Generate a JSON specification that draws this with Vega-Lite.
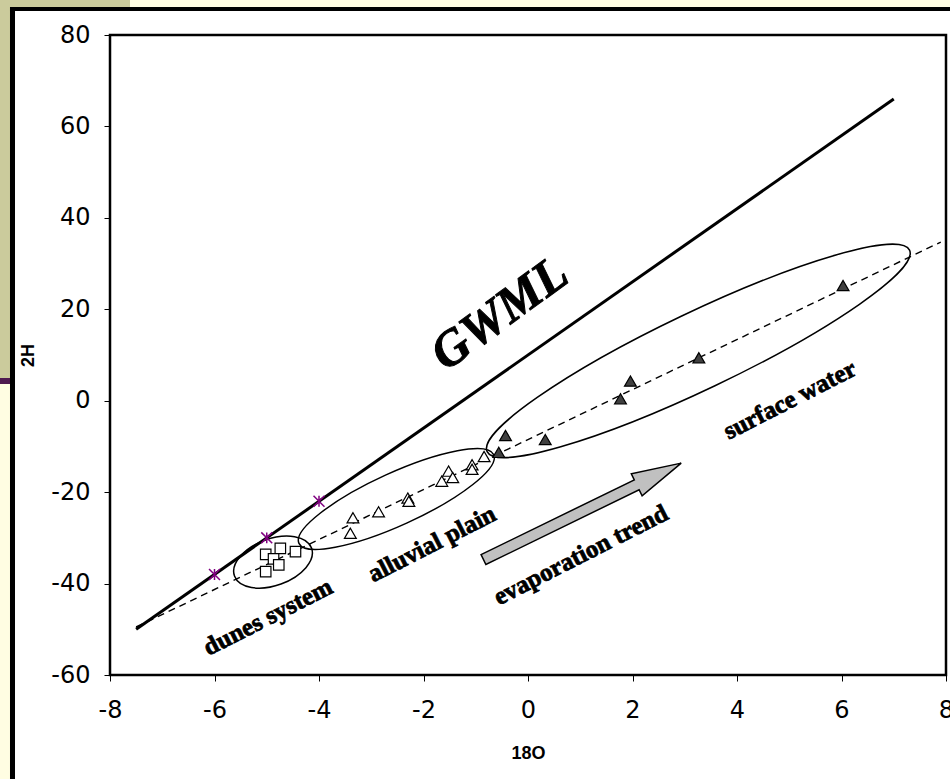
{
  "$schema": "https://vega.github.io/schema/vega-lite/v6.json",
  "width": 836,
  "height": 640,
  "autosize": {"type": "none"},
  "padding": {"left": 110, "top": 35, "right": 4, "bottom": 104},
  "background": "white",
  "config": {
    "view": {"stroke": "black", "strokeWidth": 2.5},
    "axis": {"zindex": 1}
  },
  "datasets": {
    "gwml": [{"x": -7.5, "y": -50}, {"x": 7, "y": 66}],
    "evap": [{"x": -7.5, "y": -49.5}, {"x": 7.9, "y": 34.7}],
    "stars": [{"x": -6, "y": -38}, {"x": -5, "y": -30}, {"x": -4, "y": -22}],
    "dunes": [
      {"x": -5.02, "y": -33.6}, {"x": -4.74, "y": -32.3}, {"x": -4.87, "y": -34.6},
      {"x": -4.77, "y": -35.9}, {"x": -5.02, "y": -37.4}, {"x": -4.45, "y": -33.0}
    ],
    "alluvial": [
      {"x": -3.35, "y": -25.6}, {"x": -3.4, "y": -29.0}, {"x": -2.86, "y": -24.3},
      {"x": -2.3, "y": -21.3}, {"x": -2.28, "y": -22.0}, {"x": -1.65, "y": -17.6},
      {"x": -1.52, "y": -15.4}, {"x": -1.44, "y": -16.8}, {"x": -1.07, "y": -14.0},
      {"x": -1.07, "y": -15.0}, {"x": -0.84, "y": -12.2}
    ],
    "surface": [
      {"x": -0.43, "y": -7.6}, {"x": -0.56, "y": -11.3}, {"x": 0.33, "y": -8.5},
      {"x": 1.77, "y": 0.4}, {"x": 1.96, "y": 4.3}, {"x": 3.27, "y": 9.4}, {"x": 6.03, "y": 25.2}
    ],
    "ell_dunes": [{"x": -4.88, "y": -35.3}],
    "ell_alluvial": [{"x": -2.52, "y": -21.5}],
    "ell_surface": [{"x": 3.26, "y": 10.9}],
    "arrow": [{"x": 1.04, "y": -24.2}],
    "gwml_label": [{"x": -0.54, "y": 19.0, "label": "GWML"}],
    "labels": [
      {"x": -4.98, "y": -47.3, "label": "dunes system"},
      {"x": -1.84, "y": -31.3, "label": "alluvial plain"},
      {"x": 1.01, "y": -33.7, "label": "evaporation trend"},
      {"x": 5.01, "y": 0.2, "label": "surface water"}
    ]
  },
  "layer": [
    {
      "data": {"values": [{"k": 0}]},
      "layer": [
        {
          "mark": {"type": "rect", "fill": "#cbcb9c", "clip": false},
          "encoding": {"x": {"datum": -10.2, "type": "quantitative", "title": "18O"}, "x2": {"datum": -9.914}, "y": {"datum": 88.75, "type": "quantitative", "title": "2H"}, "y2": {"datum": 4.97}}
        },
        {
          "mark": {"type": "rect", "fill": "#cbcb9c", "clip": false},
          "encoding": {"x": {"datum": -10.2, "type": "quantitative", "title": "18O"}, "x2": {"datum": -7.617}, "y": {"datum": 88.75, "type": "quantitative", "title": "2H"}, "y2": {"datum": 86.125}}
        },
        {
          "mark": {"type": "rect", "fill": "#fffde2", "clip": false},
          "encoding": {"x": {"datum": -7.617, "type": "quantitative", "title": "18O"}, "x2": {"datum": 8.2}, "y": {"datum": 88.75, "type": "quantitative", "title": "2H"}, "y2": {"datum": 86.125}}
        },
        {
          "mark": {"type": "rect", "fill": "#fffde2", "clip": false},
          "encoding": {"x": {"datum": -10.2, "type": "quantitative", "title": "18O"}, "x2": {"datum": -9.914}, "y": {"datum": 3.66, "type": "quantitative", "title": "2H"}, "y2": {"datum": -84.1}}
        },
        {
          "mark": {"type": "rect", "fill": "#4f1a4f", "clip": false},
          "encoding": {"x": {"datum": -10.2, "type": "quantitative", "title": "18O"}, "x2": {"datum": -9.914}, "y": {"datum": 4.97, "type": "quantitative", "title": "2H"}, "y2": {"datum": 3.66}}
        },
        {
          "mark": {"type": "rect", "fill": "black", "clip": false},
          "encoding": {"x": {"datum": -9.914, "type": "quantitative", "title": "18O"}, "x2": {"datum": -9.818}, "y": {"datum": 86.125, "type": "quantitative", "title": "2H"}, "y2": {"datum": -84.1}}
        },
        {
          "mark": {"type": "rect", "fill": "black", "clip": false},
          "encoding": {"x": {"datum": -9.914, "type": "quantitative", "title": "18O"}, "x2": {"datum": 8.2}, "y": {"datum": 86.125, "type": "quantitative", "title": "2H"}, "y2": {"datum": 85.25}}
        }
      ]
    },
    {
      "encoding": {
        "x": {
          "field": "x", "type": "quantitative",
          "scale": {"domain": [-8, 8], "nice": false, "zero": false},
          "axis": {
            "title": "18O", "values": [-8, -6, -4, -2, 0, 2, 4, 6, 8], "grid": false, "domain": false,
            "labelExpr": "'' + datum.value",
            "labelFont": "DejaVu Sans", "labelFontSize": 24, "labelColor": "black", "labelPadding": 17,
            "labelFlush": false, "labelOverlap": false,
            "tickColor": "black", "tickSize": 6, "tickWidth": 1,
            "titleFont": "Liberation Sans", "titleFontSize": 18, "titleFontWeight": "bold", "titleColor": "black",
            "titleY": 78, "titleBaseline": "middle"
          }
        },
        "y": {
          "field": "y", "type": "quantitative",
          "scale": {"domain": [-60, 80], "nice": false, "zero": false},
          "axis": {
            "title": "2H", "values": [-60, -40, -20, 0, 20, 40, 60, 80], "grid": false, "domain": false,
            "labelExpr": "'' + datum.value",
            "labelFont": "DejaVu Sans", "labelFontSize": 24, "labelColor": "black", "labelPadding": 14,
            "labelFlush": false, "labelOverlap": false,
            "tickColor": "black", "tickSize": 6, "tickWidth": 1,
            "titleFont": "Liberation Sans", "titleFontSize": 18, "titleFontWeight": "bold", "titleColor": "black",
            "titleX": -82, "titleY": 320, "titleBaseline": "middle"
          }
        }
      },
      "layer": [
        {
          "data": {"name": "ell_dunes"},
          "mark": {"type": "point", "shape": "M -1 0 A 1 0.57 0 1 0 1 0 A 1 0.57 0 1 0 -1 0 Z", "filled": false, "stroke": "black", "strokeWidth": 1.5, "opacity": 1, "size": 6724, "angle": -20}
        },
        {
          "data": {"name": "ell_alluvial"},
          "mark": {"type": "point", "shape": "M -1 0 A 1 0.245 0 1 0 1 0 A 1 0.245 0 1 0 -1 0 Z", "filled": false, "stroke": "black", "strokeWidth": 1.5, "opacity": 1, "size": 45796, "angle": -24.5}
        },
        {
          "data": {"name": "ell_surface"},
          "mark": {"type": "point", "shape": "M -1 0 A 1 0.165 0 1 0 1 0 A 1 0.165 0 1 0 -1 0 Z", "filled": false, "stroke": "black", "strokeWidth": 1.5, "opacity": 1, "size": 219024, "angle": -25.5}
        },
        {
          "data": {"name": "gwml"},
          "mark": {"type": "line", "color": "black", "strokeWidth": 3}
        },
        {
          "data": {"name": "evap"},
          "mark": {"type": "line", "color": "black", "strokeWidth": 1.4, "strokeDash": [7, 5]}
        },
        {
          "data": {"name": "arrow"},
          "mark": {"type": "point", "shape": "M -1 -0.05 L 0.55 -0.05 L 0.55 -0.112 L 1 0 L 0.55 0.112 L 0.55 0.05 L -1 0.05 Z", "filled": true, "fill": "#c0c0c0", "stroke": "black", "strokeWidth": 1.5, "opacity": 1, "size": 48400, "angle": -26}
        },
        {
          "data": {"name": "stars"},
          "mark": {"type": "point", "shape": "M -1 -1 L 1 1 M -1 1 L 1 -1 M 0 -1 L 0 1", "filled": false, "stroke": "#800080", "strokeWidth": 1.5, "opacity": 1, "size": 120}
        },
        {
          "data": {"name": "dunes"},
          "mark": {"type": "point", "shape": "square", "filled": true, "fill": "white", "stroke": "black", "strokeWidth": 1.2, "opacity": 1, "size": 110}
        },
        {
          "data": {"name": "alluvial"},
          "mark": {"type": "point", "shape": "triangle-up", "filled": true, "fill": "white", "stroke": "black", "strokeWidth": 1.2, "opacity": 1, "size": 140}
        },
        {
          "data": {"name": "surface"},
          "mark": {"type": "point", "shape": "triangle-up", "filled": true, "fill": "#404040", "stroke": "black", "strokeWidth": 1.2, "opacity": 1, "size": 140}
        },
        {
          "data": {"name": "gwml_label"},
          "mark": {"type": "text", "font": "Liberation Serif", "fontWeight": "bold", "fontStyle": "italic", "fontSize": 50, "angle": -36, "align": "center", "baseline": "middle", "color": "black", "stroke": "black", "strokeWidth": 1},
          "encoding": {"text": {"field": "label"}}
        },
        {
          "data": {"name": "labels"},
          "mark": {"type": "text", "font": "Liberation Serif", "fontWeight": "bold", "fontSize": 25, "angle": -27, "align": "center", "baseline": "middle", "color": "black", "stroke": "black", "strokeWidth": 0.8},
          "encoding": {"text": {"field": "label"}}
        }
      ]
    }
  ]
}
